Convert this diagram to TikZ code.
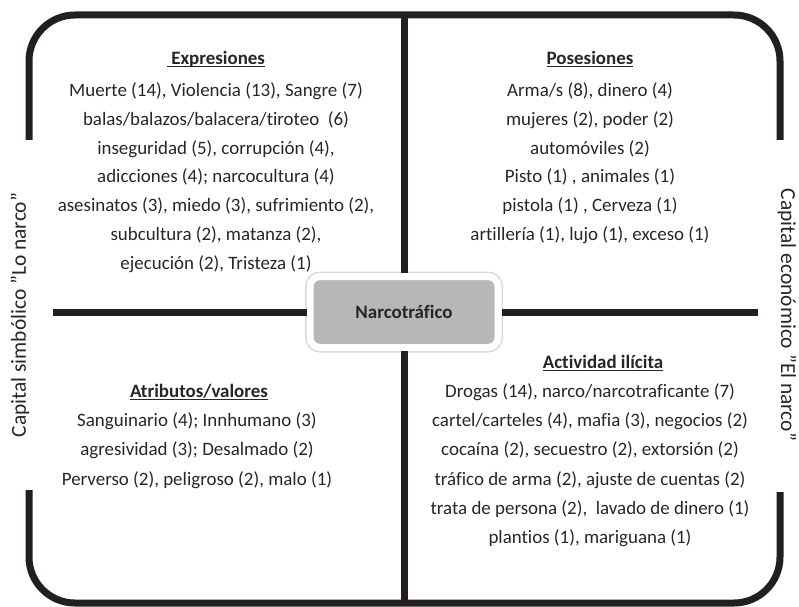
\documentclass[tikz,border=0pt]{standalone}
\usepackage{fontspec}
\setmainfont{Carlito}[Ligatures={TeX,NoCommon}]
\definecolor{frameblack}{RGB}{35,31,32}
\definecolor{textgray}{RGB}{38,38,38}
\definecolor{hubgray}{RGB}{183,183,186}
\newcommand{\headline}[1]{\underline{\smash{#1}}}

\begin{document}
\begin{tikzpicture}[
        x=1bp, y=-1bp,
        frame/.style={draw=frameblack, line width=7bp},
        divider/.style={draw=frameblack, line width=7bp},
        entry/.style={anchor=base, inner sep=0pt, text=textgray, font=\fontsize{19}{23}\selectfont},
        heading/.style={entry, font=\fontsize{19}{23}\selectfont\bfseries},
        sidelabel/.style={inner sep=0pt, text=textgray, font=\fontsize{21.5}{26}\selectfont},
        hub/.style={rounded corners=10bp, fill=hubgray, draw=white, line width=7bp,
            preaction={draw=black!15, line width=10bp},
            minimum width=188bp, minimum height=71bp, text=textgray,
            font=\fontsize{19}{23}\selectfont\bfseries}
    ]
        \useasboundingbox (0,0) rectangle (799,607);

        % Outer frame
        \draw[frame, rounded corners=46bp] (29,140) -- (29,15) -- (780,15) -- (780,140);
        \draw[frame, rounded corners=46bp] (29,490) -- (29,603) -- (780,603) -- (780,492);

        % Central node
        \node[hub] (narco) at (404,312) {Narcotráfico};

        % Dividers
        \coordinate (div-n) at (404,15);
        \coordinate (div-s) at (404,603);
        \coordinate (div-w) at (53,312);
        \coordinate (div-e) at (758,312);
        \foreach \d in {n,s,w,e}
            \draw[divider] (div-\d) -- (narco);

        % Expresiones
        \node[heading] (expr) at (216,64.5) {\headline{\ Expresiones}};
        \foreach \txt [count=\i] in {{Muerte (14), Violencia (13), Sangre (7)},
                {balas/balazos/balacera/tiroteo~~(6)},
                {inseguridad (5), corrupción (4),},
                {adicciones (4); narcocultura (4)},
                {asesinatos (3), miedo (3), sufrimiento (2),},
                {subcultura (2), matanza (2),},
                {ejecución (2), Tristeza (1)}}
            {\node[entry] (expr-\i) at (216,67.7+28.8*\i) {\txt};}

        % Posesiones
        \node[heading] (pos) at (590,64.5) {\headline{Posesiones}};
        \foreach \txt [count=\i] in {{Arma/s (8), dinero (4)},
                {mujeres (2), poder (2)},
                {automóviles (2)},
                {Pisto (1) , animales (1)},
                {pistola (1) , Cerveza (1)},
                {artillería (1), lujo (1), exceso (1)}}
            {\node[entry] (pos-\i) at (590,67.7+28.8*\i) {\txt};}

        % Atributos/valores
        \node[heading] (attr) at (199,397.5) {\headline{Atributos/valores}};
        \foreach \txt [count=\i] in {{Sanguinario (4); Innhumano (3)},
                {agresividad (3); Desalmado (2)},
                {Perverso (2), peligroso (2), malo (1)}}
            {\node[entry] (attr-\i) at (197,397.5+29.2*\i) {\txt};}

        % Actividad ilicita
        \node[heading] (act) at (603,368.5) {\headline{Actividad ilícita}};
        \foreach \txt [count=\i] in {{Drogas (14), narco/narcotraficante (7)},
                {cartel/carteles (4), mafia (3), negocios (2)},
                {cocaína (2), secuestro (2), extorsión (2)},
                {tráfico de arma (2), ajuste de cuentas (2)},
                {trata de persona (2),~~lavado de dinero (1)},
                {plantios (1), mariguana (1)}}
            {\node[entry] (act-\i) at (590,368.3+29.2*\i) {\txt};}

        % Side labels
        \node[sidelabel, rotate=90] (simb) at (20,315) {Capital simbólico "Lo narco"};
        \node[sidelabel, rotate=-90] (econ) at (787,315) {Capital económico "El narco"};
    \end{tikzpicture}
\end{document}
